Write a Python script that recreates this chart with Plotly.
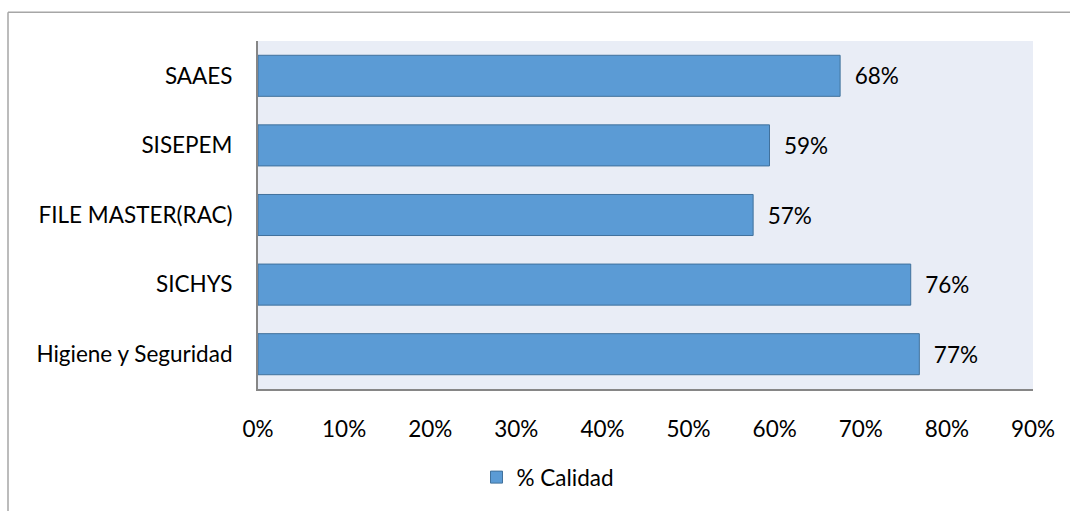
import plotly.graph_objects as go

categories = ["Higiene y Seguridad", "SICHYS", "FILE MASTER(RAC)", "SISEPEM", "SAAES"]
calidad = [0.768, 0.758, 0.575, 0.594, 0.676]
x_ticks = [0, 0.1, 0.2, 0.3, 0.4, 0.5, 0.6, 0.7, 0.8, 0.9]
x_tick_labels = ["0%", "10%", "20%", "30%", "40%", "50%", "60%", "70%", "80%", "90%"]
series_name = "% Calidad"

W, H = 1070, 511
L, R, T, B = 258, 37, 41, 120
pw, ph = W - L - R, H - T - B

def px_x(p):
    return (p - L) / pw

def px_y(p):
    return (H - B - p) / ph

FONT = "Lato, Calibri, Carlito, sans-serif"
FS = 22.5

fig = go.Figure()
fig.add_trace(go.Bar(
    y=categories,
    x=calidad,
    orientation="h",
    name=series_name,
    marker=dict(color="#5B9BD5", line=dict(color="#41719C", width=1)),
    text=["\u00a0\u00a0" + f"{v:.0%}" for v in calidad],
    textposition="outside",
    textfont=dict(size=FS, color="#000000", family=FONT),
    cliponaxis=False,
    showlegend=True,
))

fig.update_layout(
    width=W, height=H,
    margin=dict(l=L, r=R, t=T, b=B),
    paper_bgcolor="white",
    plot_bgcolor="#E9EDF6",
    bargap=0.41,
    font=dict(family=FONT, size=FS, color="#000000"),
    xaxis=dict(
        range=[0, 0.9],
        tickvals=x_ticks,
        ticktext=x_tick_labels,
        showgrid=False,
        zeroline=False,
        showline=True,
        linecolor="#868686",
        linewidth=2,
        ticks="",
        ticklabelstandoff=19,
        tickfont=dict(size=FS, family=FONT),
        fixedrange=True,
    ),
    yaxis=dict(
        showgrid=False,
        zeroline=False,
        showline=True,
        linecolor="#868686",
        linewidth=2,
        ticks="",
        ticklabelstandoff=19,
        tickfont=dict(size=FS, family=FONT),
        fixedrange=True,
    ),
    legend=dict(
        orientation="h",
        itemwidth=30,
        x=px_x(548), xanchor="center",
        y=px_y(480), yanchor="middle",
        font=dict(size=FS, family=FONT),
        bgcolor="rgba(0,0,0,0)",
    ),
    shapes=[
        dict(type="line", xref="paper", yref="paper",
             x0=px_x(8), x1=px_x(8), y0=px_y(12), y1=px_y(H + 5),
             line=dict(color="#A6A6A6", width=1.5)),
        dict(type="line", xref="paper", yref="paper",
             x0=px_x(8), x1=px_x(W + 5), y0=px_y(12), y1=px_y(12),
             line=dict(color="#A6A6A6", width=1.5)),
    ],
)

fig.write_html("out.html")
